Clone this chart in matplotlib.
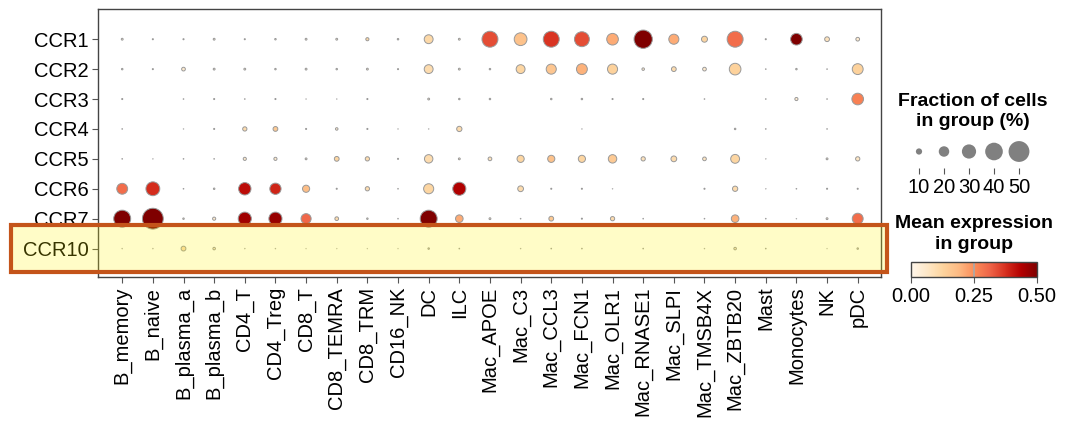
import matplotlib
matplotlib.use("Agg")
import matplotlib.pyplot as plt
import numpy as np
from matplotlib.patches import Rectangle

plt.rcParams['font.family'] = ['Liberation Sans', 'DejaVu Sans']

genes = ['CCR1', 'CCR2', 'CCR3', 'CCR4', 'CCR5', 'CCR6', 'CCR7', 'CCR10']
groups = ['B_memory', 'B_naive', 'B_plasma_a', 'B_plasma_b', 'CD4_T', 'CD4_Treg',
          'CD8_T', 'CD8_TEMRA', 'CD8_TRM', 'CD16_NK', 'DC', 'ILC', 'Mac_APOE',
          'Mac_C3', 'Mac_CCL3', 'Mac_FCN1', 'Mac_OLR1', 'Mac_RNASE1', 'Mac_SLPI',
          'Mac_TMSB4X', 'Mac_ZBTB20', 'Mast', 'Monocytes', 'NK', 'pDC']

# fraction of cells expressing (%) per gene row
frac_pct = [
    [2, 1, 1, 2, 1, 1.5, 2, 2, 4, 1.5, 16, 2, 35, 26, 35, 32, 23, 42, 19, 9.5, 35, 1, 23, 7, 5],
    [1.5, 1, 5, 2, 2, 1.5, 2, 1.5, 2, 1, 16, 2, 1.5, 16, 19, 21, 19, 3, 7, 5, 23, 0.5, 1.5, 0.5, 21],
    [1, 0, 0.5, 1, 0.5, 1, 0.3, 0.3, 1, 0, 2, 1.5, 1.5, 0, 1.5, 1.5, 1, 1, 0, 0.5, 0, 0.5, 4, 0.5, 23],
    [0.5, 0, 0.3, 1, 6, 7, 1, 3, 1, 0.3, 0.3, 8, 0, 0, 0, 0.3, 0, 0, 0, 0, 1.5, 0.5, 0, 0.5, 0],
    [0.5, 0.3, 0.5, 0.5, 4, 4, 2, 7, 6, 1, 15, 2, 5, 12, 12, 12, 15, 6, 9, 5, 16, 0.3, 0, 2, 6],
    [21, 29, 0.5, 1.5, 25, 22, 12, 1, 6, 0.5, 19, 27, 0, 9, 1, 1, 0.3, 0, 0, 1, 8, 0.3, 0.5, 1, 1],
    [38, 50, 1.5, 4, 27, 27, 19, 5, 1.5, 0.5, 38, 13, 2, 0.5, 7, 1, 6, 0.5, 0, 0.5, 13, 0.5, 0.3, 2, 21],
    [0.3, 0.3, 7, 3, 0.3, 0.3, 0.2, 0.2, 0.2, 0.2, 1.5, 0.5, 0, 0.3, 0.5, 0.5, 0, 0.5, 0, 0.3, 3, 0.5, 0, 0.2, 1.5],
]

# mean expression in group
mean_expr = [
    [0.05, 0.03, 0.03, 0.05, 0.03, 0.04, 0.05, 0.05, 0.12, 0.04, 0.11, 0.05, 0.34, 0.17, 0.37, 0.34, 0.21, 0.5, 0.21, 0.12, 0.30, 0.03, 0.5, 0.08, 0.05],
    [0.04, 0.03, 0.05, 0.05, 0.05, 0.04, 0.05, 0.04, 0.05, 0.03, 0.10, 0.05, 0.04, 0.12, 0.16, 0.2, 0.13, 0.05, 0.1, 0.05, 0.13, 0.02, 0.04, 0.02, 0.13],
    [0.03, 0, 0.02, 0.03, 0.02, 0.03, 0.02, 0.02, 0.03, 0, 0.05, 0.04, 0.04, 0, 0.04, 0.04, 0.03, 0.03, 0, 0.02, 0, 0.02, 0.05, 0.02, 0.27],
    [0.02, 0, 0.02, 0.03, 0.1, 0.15, 0.03, 0.05, 0.03, 0.02, 0.02, 0.1, 0, 0, 0, 0.02, 0, 0, 0, 0, 0.04, 0.02, 0, 0.02, 0],
    [0.02, 0.02, 0.02, 0.02, 0.05, 0.05, 0.05, 0.12, 0.1, 0.03, 0.1, 0.05, 0.08, 0.12, 0.17, 0.12, 0.15, 0.08, 0.1, 0.07, 0.12, 0.02, 0, 0.05, 0.07],
    [0.3, 0.38, 0.02, 0.04, 0.42, 0.39, 0.18, 0.03, 0.1, 0.02, 0.12, 0.44, 0, 0.1, 0.03, 0.03, 0.02, 0, 0, 0.03, 0.1, 0.02, 0.02, 0.03, 0.03],
    [0.5, 0.52, 0.04, 0.05, 0.46, 0.47, 0.31, 0.1, 0.04, 0.02, 0.5, 0.21, 0.05, 0.02, 0.15, 0.03, 0.1, 0.02, 0, 0.02, 0.2, 0.02, 0.02, 0.05, 0.3],
    [0.02, 0.02, 0.1, 0.05, 0.02, 0.02, 0.02, 0.02, 0.02, 0.02, 0.04, 0.02, 0, 0.02, 0.02, 0.02, 0, 0.02, 0, 0.02, 0.05, 0.02, 0, 0.02, 0.04],
]

legend_pct = [10, 20, 30, 40, 50]
highlight_gene = 'CCR10'

dot_max = 50.0
max_area = 225.0
cmap = plt.get_cmap('OrRd')
vmin, vmax = 0.0, 0.5


def dot_size(p):
    return (np.asarray(p, dtype=float) / dot_max) ** 1.5 * max_area


W, H = 1090, 425
fig = plt.figure(figsize=(W / 100, H / 100), dpi=100)

# main dot plot
ax = fig.add_axes([98 / W, 1 - 277 / H, (881 - 98) / W, (277 - 9) / H])
frac = np.array(frac_pct, dtype=float)
mexp = np.array(mean_expr, dtype=float)
yy, xx = np.meshgrid(np.arange(len(genes)), np.arange(len(groups)), indexing='ij')
mask = frac > 0
sc = ax.scatter(xx[mask], yy[mask], s=dot_size(frac[mask]), c=mexp[mask],
                cmap=cmap, vmin=vmin, vmax=vmax,
                edgecolors='#999999', linewidths=0.7, zorder=3)
ax.set_xlim(-0.79, len(groups) - 1 + 0.76)
ax.set_ylim(7.95, -1.01)
ax.set_xticks(range(len(groups)))
ax.set_xticklabels(groups, rotation=90, fontsize=14.5)
ax.set_yticks(range(len(genes)))
ax.set_yticklabels(genes, fontsize=14.5)
ax.tick_params(axis='both', length=4, width=0.8, color='#555555', pad=3)
for s in ax.spines.values():
    s.set_color('#444444')
    s.set_linewidth(1.0)

# size legend
lax = fig.add_axes([906.5 / W, 1 - 168 / H, 125 / W, 33 / H])
lax.scatter(range(len(legend_pct)), [0.5] * len(legend_pct), s=dot_size(legend_pct),
            color='#808080', edgecolors='none')
lax.set_xlim(-0.5, len(legend_pct) - 0.5)
lax.set_ylim(0, 1)
lax.set_xticks(range(len(legend_pct)))
lax.set_xticklabels([str(v) for v in legend_pct], fontsize=14.5)
lax.set_yticks([])
lax.tick_params(axis='x', length=4, width=0.8, color='#555555', pad=3)
for s in lax.spines.values():
    s.set_visible(False)
fig.text(973 / W, 1 - 111.5 / H, 'Fraction of cells\nin group (%)', ha='center', va='center',
         fontsize=14, fontweight='bold', linespacing=1.3)

# colorbar
cax = fig.add_axes([911 / W, 1 - 277 / H, 126 / W, 15 / H])
cb = fig.colorbar(sc, cax=cax, orientation='horizontal')
cb.set_ticks([0, 0.25, 0.5])
cb.set_ticklabels(['0.00', '0.25', '0.50'])
cax.tick_params(labelsize=14.5, length=4, width=0.8, color='#555555', pad=3)
cax.axvline(0.25, color='#aaaaaa', lw=1.2)
cb.outline.set_edgecolor('#444444')
cb.outline.set_linewidth(1.0)
fig.text(974 / W, 1 - 234 / H, 'Mean expression\nin group', ha='center', va='center',
         fontsize=14, fontweight='bold', linespacing=1.3)

# highlight box over the CCR10 row
row = genes.index(highlight_gene)
y_row = ax.transData.transform((0, row))[1]
x0, x1 = 11 / W, 887 / W
h = 47 / H
y0 = y_row / H - h / 2
fig.patches.append(Rectangle((x0, y0), x1 - x0, h, transform=fig.transFigure,
                             facecolor='#fff200', alpha=0.22, edgecolor='none', zorder=10))
fig.patches.append(Rectangle((x0, y0), x1 - x0, h, transform=fig.transFigure,
                             facecolor='none', edgecolor='#c4541a', linewidth=3.0, zorder=11))

fig.savefig('out.png', dpi=100)
